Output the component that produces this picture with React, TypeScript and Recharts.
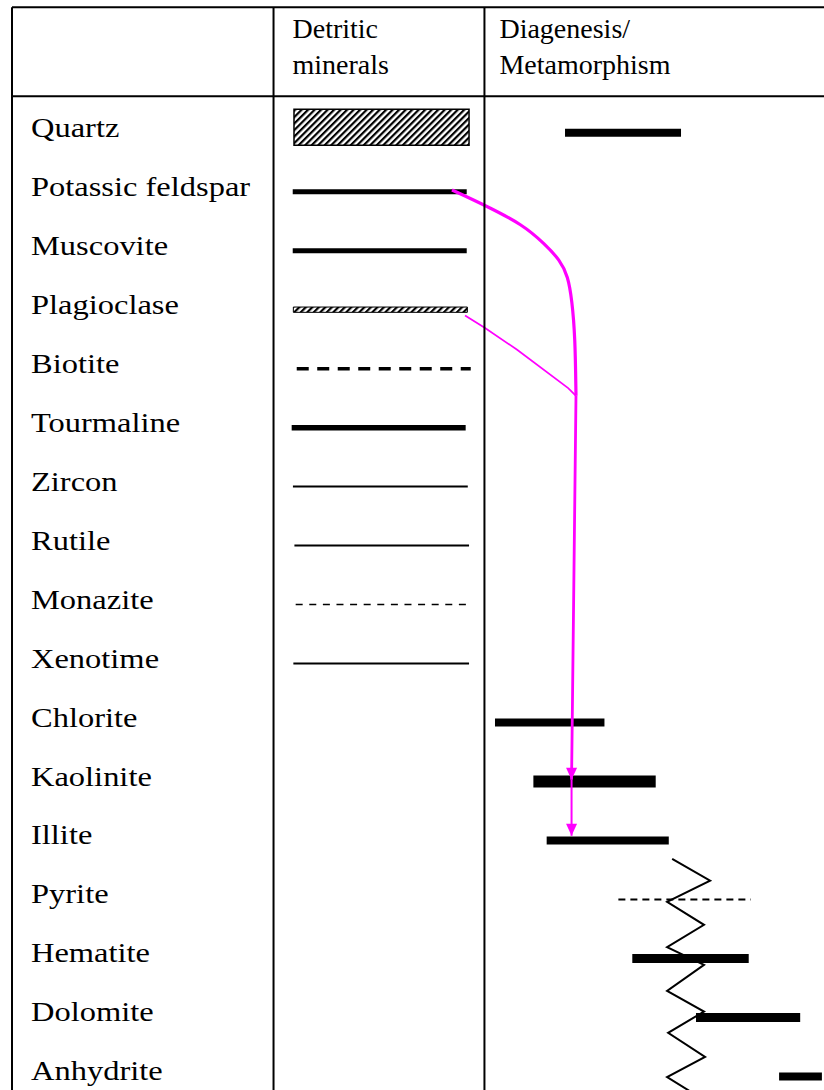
import React from 'react';
import { ComposedChart, Line, XAxis, YAxis, ReferenceLine, ReferenceArea, Scatter } from 'recharts';

// ---------- data ----------
const minerals = [
  'Quartz', 'Potassic feldspar', 'Muscovite', 'Plagioclase', 'Biotite', 'Tourmaline',
  'Zircon', 'Rutile', 'Monazite', 'Xenotime', 'Chlorite', 'Kaolinite', 'Illite',
  'Pyrite', 'Hematite', 'Dolomite', 'Anhydrite',
];
const rowIndex = minerals.map((_, i) => i);

// detritic column (relative units, column spans 0..10)
const detriticMinerals = ['Quartz', 'Potassic feldspar', 'Muscovite', 'Plagioclase', 'Biotite', 'Tourmaline', 'Zircon', 'Rutile', 'Monazite', 'Xenotime'];
const detriticStart = [0.97, 0.91, 0.91, 0.94, 1.1, 0.86, 0.92, 0.99, 1.05, 0.94];
const detriticEnd = [9.27, 9.16, 9.16, 9.19, 9.35, 9.11, 9.21, 9.27, 9.27, 9.27];

// diagenesis / metamorphism column (relative units, column starts at 10)
const diagMinerals = ['Quartz', 'Chlorite', 'Kaolinite', 'Illite', 'Pyrite', 'Hematite', 'Dolomite', 'Anhydrite'];
const diagStart = [13.82, 10.5, 12.32, 12.95, 16.35, 17.01, 20.03, 23.97];
const diagEnd = [19.32, 15.69, 18.12, 18.74, 22.63, 22.53, 24.97, 26.0];

// header (column captions at column starts)
const headerTicks = [0, 10];
const headerLines = [['Detritic', 'minerals'], ['Diagenesis/', 'Metamorphism']];

// transformation arrows (x in column units, y in row units)
const potassicPath = [
  { x: 8.46, y: 0.97 }, { x: 10.03, y: 1.23 }, { x: 11.83, y: 1.56 }, { x: 12.87, y: 1.89 },
  { x: 13.58, y: 2.16 }, { x: 13.96, y: 2.43 }, { x: 14.15, y: 2.84 }, { x: 14.3, y: 3.46 },
  { x: 14.34, y: 4.46 },
];
const plagioclasePath = [
  { x: 9.08, y: 3.1 }, { x: 10.03, y: 3.31 }, { x: 11.55, y: 3.68 }, { x: 13.97, y: 4.33 },
  { x: 14.34, y: 4.46 },
];
const trunkPath = [{ x: 14.34, y: 4.46 }, { x: 14.18, y: 9.45 }, { x: 14.13, y: 10.97 }];
const branchPath = [{ x: 14.13, y: 10.97 }, { x: 14.13, y: 11.92 }];
const arrowTips = [{ x: 14.13, y: 10.97 }, { x: 14.13, y: 11.92 }];

// zig-zag boundary
const zigzag = [
  { x: 18.9, y: 12.31 }, { x: 20.7, y: 12.68 }, { x: 18.66, y: 13.04 }, { x: 20.41, y: 13.43 },
  { x: 18.66, y: 13.81 }, { x: 20.41, y: 14.11 }, { x: 18.66, y: 14.55 }, { x: 20.41, y: 14.9 },
  { x: 18.71, y: 15.26 }, { x: 20.46, y: 15.67 }, { x: 18.66, y: 16.01 }, { x: 20.41, y: 16.4 },
];

// ---------- styles / layout ----------
const X_MIN = -12.4;
const X_MAX = 27;
const Y_MIN = -2.2;
const Y_MAX = 16.4;
const TABLE_TOP = -2.13;
const HEADER_BOTTOM = -0.62;
const MAGENTA = '#ff00ff';
const SERIF = '"Liberation Serif", "Times New Roman", serif';

type LineStyle = { kind: 'line' | 'box'; w?: number; dash?: string; box?: [number, number] };
const detriticStyle: Record<string, LineStyle> = {
  Quartz: { kind: 'box', box: [-0.4, 0.21] },
  'Potassic feldspar': { kind: 'line', w: 5 },
  Muscovite: { kind: 'line', w: 5 },
  Plagioclase: { kind: 'box', box: [-0.045, 0.045] },
  Biotite: { kind: 'line', w: 3.5, dash: '12 8.5' },
  Tourmaline: { kind: 'line', w: 5.5 },
  Zircon: { kind: 'line', w: 2 },
  Rutile: { kind: 'line', w: 2 },
  Monazite: { kind: 'line', w: 1.5, dash: '7 6.6' },
  Xenotime: { kind: 'line', w: 2 },
};
const diagStyle: Record<string, { w: number; dash?: string }> = {
  Quartz: { w: 8 },
  Chlorite: { w: 8 },
  Kaolinite: { w: 12 },
  Illite: { w: 8 },
  Pyrite: { w: 2, dash: '7 5' },
  Hematite: { w: 9 },
  Dolomite: { w: 9 },
  Anhydrite: { w: 8 },
};

const MineralTick = (props: any) => {
  const { y, payload } = props;
  const name = minerals[payload.value];
  return (
    <text
      transform={`translate(31, ${y + 4}) scale(1.16, 1)`}
      fontFamily={SERIF}
      fontSize={28}
      fill="#000"
      textAnchor="start"
    >
      {name}
    </text>
  );
};

const HeaderTick = (props: any) => {
  const { x, payload } = props;
  const idx = headerTicks.indexOf(payload.value);
  const lines = headerLines[idx] || [];
  const dx = idx === 0 ? 19 : 15;
  return (
    <g>
      {lines.map((t, i) => (
        <text key={t} x={x + dx} y={38 + i * 36} fontFamily={SERIF} fontSize={28} fill="#000" textAnchor="start">
          {t}
        </text>
      ))}
    </g>
  );
};

const Arrowhead = (props: any) => {
  const { cx, cy } = props;
  return <polygon points={`${cx - 5.5},${cy - 12} ${cx + 5.5},${cy - 12} ${cx},${cy}`} fill={MAGENTA} />;
};

const seg = (s: number, e: number, row: number) => [{ x: s, y: row }, { x: e, y: row }];

export default function App() {
  const frame = [
    [{ x: X_MIN, y: TABLE_TOP }, { x: X_MAX, y: TABLE_TOP }],
    [{ x: X_MIN, y: HEADER_BOTTOM }, { x: X_MAX, y: HEADER_BOTTOM }],
    [{ x: X_MIN, y: TABLE_TOP }, { x: X_MIN, y: Y_MAX }],
    [{ x: 0, y: TABLE_TOP }, { x: 0, y: Y_MAX }],
    [{ x: 10, y: TABLE_TOP }, { x: 10, y: Y_MAX }],
  ];

  return (
    <div style={{ position: 'absolute', left: 0, top: 0, width: 824, height: 1090, overflow: 'hidden', background: '#fff' }}>
      <svg width={0} height={0} style={{ position: 'absolute' }}>
        <defs>
          <pattern id="hatch" patternUnits="userSpaceOnUse" width={4.6} height={4.6} patternTransform="rotate(45)">
            <rect width={4.6} height={4.6} fill="#fff" />
            <rect width={2.2} height={4.6} fill="#000" />
          </pattern>
        </defs>
      </svg>
      <ComposedChart width={843} height={1100} margin={{ top: 3, right: 0, bottom: 0, left: 12 }}>
        <XAxis
          type="number"
          dataKey="x"
          domain={[X_MIN, X_MAX]}
          allowDataOverflow
          orientation="top"
          mirror
          ticks={headerTicks}
          interval={0}
          axisLine={false}
          tickLine={false}
          tick={<HeaderTick />}
        />
        <YAxis
          type="number"
          dataKey="y"
          domain={[Y_MIN, Y_MAX]}
          allowDataOverflow
          reversed
          mirror
          ticks={rowIndex}
          interval={0}
          axisLine={false}
          tickLine={false}
          tick={<MineralTick />}
        />

        {/* zig-zag boundary */}
        <Line data={zigzag} dataKey="y" type="linear" stroke="#000" strokeWidth={2} dot={false} activeDot={false} isAnimationActive={false} />

        {/* detritic column */}
        {detriticMinerals.map((m, i) => {
          const st = detriticStyle[m];
          const row = minerals.indexOf(m);
          if (st.kind === 'box') {
            return (
              <ReferenceArea
                key={'d' + m}
                x1={detriticStart[i]}
                x2={detriticEnd[i]}
                y1={row + st.box![0]}
                y2={row + st.box![1]}
                fill="url(#hatch)"
                fillOpacity={1}
                stroke="#000"
                strokeWidth={m === 'Quartz' ? 1.5 : 1}
                ifOverflow="visible"
              />
            );
          }
          return (
            <Line
              key={'d' + m}
              data={seg(detriticStart[i], detriticEnd[i], row)}
              dataKey="y"
              type="linear"
              stroke="#000"
              strokeWidth={st.w}
              strokeDasharray={st.dash}
              dot={false}
              activeDot={false}
              isAnimationActive={false}
            />
          );
        })}

        {/* diagenesis column */}
        {diagMinerals.map((m, i) => {
          const st = diagStyle[m];
          const row = minerals.indexOf(m);
          return (
            <Line
              key={'g' + m}
              data={seg(diagStart[i], diagEnd[i], row)}
              dataKey="y"
              type="linear"
              stroke="#000"
              strokeWidth={st.w}
              strokeDasharray={st.dash}
              dot={false}
              activeDot={false}
              isAnimationActive={false}
            />
          );
        })}

        {/* transformation arrows */}
        <Line data={potassicPath} dataKey="y" type="basis" stroke={MAGENTA} strokeWidth={3.2} dot={false} activeDot={false} isAnimationActive={false} />
        <Line data={plagioclasePath} dataKey="y" type="linear" stroke={MAGENTA} strokeWidth={1.7} dot={false} activeDot={false} isAnimationActive={false} />
        <Line data={trunkPath} dataKey="y" type="linear" stroke={MAGENTA} strokeWidth={2.8} dot={false} activeDot={false} isAnimationActive={false} />
        <Line data={branchPath} dataKey="y" type="linear" stroke={MAGENTA} strokeWidth={2} dot={false} activeDot={false} isAnimationActive={false} />
        <Scatter data={arrowTips} dataKey="y" shape={<Arrowhead />} isAnimationActive={false} />

        {/* table frame */}
        {frame.map((s, i) => (
          <ReferenceLine key={'f' + i} segment={s} stroke="#000" strokeWidth={2} ifOverflow="visible" />
        ))}
      </ComposedChart>
    </div>
  );
}
